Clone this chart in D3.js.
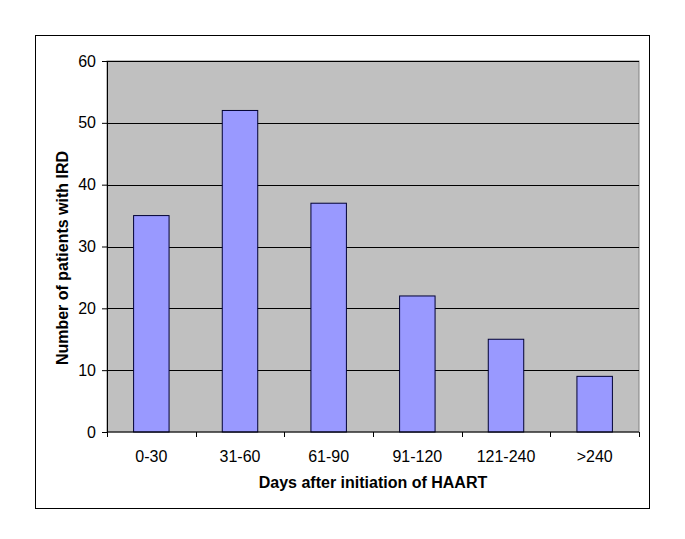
<!DOCTYPE html>
<html>
<head>
<meta charset="utf-8">
<script src="https://cdn.jsdelivr.net/npm/d3@7"></script>
<style>
  body { margin: 0; background: #fff; }
  text { font-family: "Liberation Sans", Arial, sans-serif; }
</style>
</head>
<body>
<script>
var categories = ["0-30", "31-60", "61-90", "91-120", "121-240", ">240"];
var patients = [35, 52, 37, 22, 15, 9];
var yTicks = [0, 10, 20, 30, 40, 50, 60];

var W = 685, H = 539;
var margin = {top: 61, right: 46, bottom: 107, left: 107},
    width = W - margin.left - margin.right,
    height = H - margin.top - margin.bottom;

var svg = d3.select("body").append("svg")
    .attr("width", W)
    .attr("height", H);

// outer chart border
svg.append("rect")
    .attr("x", 35.5).attr("y", 35.5)
    .attr("width", 614).attr("height", 473)
    .attr("fill", "none")
    .attr("stroke", "#000")
    .attr("stroke-width", 1);

var g = svg.append("g")
    .attr("transform", "translate(" + margin.left + "," + margin.top + ")");

var x = d3.scaleBand()
    .domain(categories)
    .range([0, width]);
var y = d3.scaleLinear()
    .domain([0, 60])
    .range([height, 0]);

// plot area
g.append("rect")
    .attr("width", width).attr("height", height)
    .attr("fill", "#c0c0c0")
    .attr("stroke", "#808080");

// gridlines
g.selectAll(".grid")
    .data(yTicks.slice(1))
  .enter().append("line")
    .attr("x1", 0).attr("x2", width)
    .attr("y1", function(d) { return Math.round(y(d)) + 0.5; })
    .attr("y2", function(d) { return Math.round(y(d)) + 0.5; })
    .attr("stroke", "#000");

// bars (Excel gap width 150%)
var bw = x.bandwidth() / 2.5;
g.selectAll(".bar")
    .data(patients)
  .enter().append("rect")
    .attr("class", "bar")
    .attr("x", function(d, i) { return x(categories[i]) + (x.bandwidth() - bw) / 2; })
    .attr("width", bw)
    .attr("y", function(d) { return y(d); })
    .attr("height", function(d) { return height - y(d); })
    .attr("fill", "#9999ff")
    .attr("stroke", "#000033")
    .attr("stroke-width", 1);

// y axis
var yAxis = g.append("g")
    .call(d3.axisLeft(y).tickValues(yTicks).tickSize(5).tickPadding(6).tickFormat(d3.format("d")));
yAxis.selectAll("text").style("font-size", "16px").attr("fill", "#000");
yAxis.selectAll("line").attr("stroke", "#000");
yAxis.select(".domain").attr("stroke", "#000");

// x axis with ticks at category boundaries
var xAxis = g.append("g")
    .attr("transform", "translate(0," + height + ")");
xAxis.append("line")
    .attr("x1", 0).attr("x2", width)
    .attr("stroke", "#000");
xAxis.selectAll(".xt")
    .data(d3.range(categories.length + 1))
  .enter().append("line")
    .attr("x1", function(i) { return Math.round(i * x.step()) + 0.5; })
    .attr("x2", function(i) { return Math.round(i * x.step()) + 0.5; })
    .attr("y1", 0).attr("y2", 5)
    .attr("stroke", "#000");
xAxis.selectAll(".xl")
    .data(categories)
  .enter().append("text")
    .attr("x", function(d) { return x(d) + x.bandwidth() / 2; })
    .attr("y", 30)
    .attr("text-anchor", "middle")
    .style("font-size", "16px")
    .text(function(d) { return d; });

// axis titles
svg.append("text")
    .attr("x", 373)
    .attr("y", 488)
    .attr("text-anchor", "middle")
    .style("font-size", "16px")
    .style("font-weight", "bold")
    .text("Days after initiation of HAART");

svg.append("text")
    .attr("transform", "translate(68,258) rotate(-90)")
    .attr("text-anchor", "middle")
    .style("font-size", "16px")
    .style("font-weight", "bold")
    .text("Number of patients with IRD");
</script>
</body>
</html>
